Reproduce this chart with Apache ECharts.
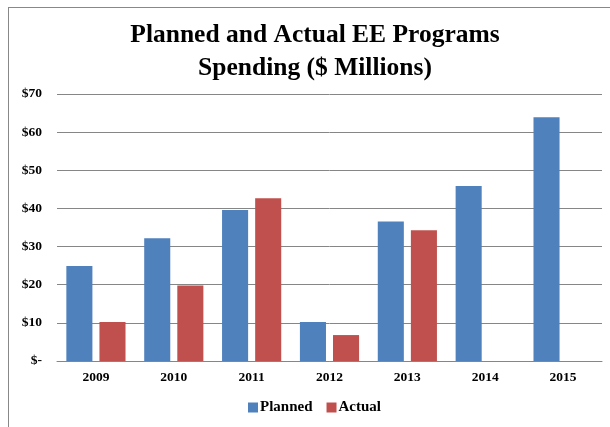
<!DOCTYPE html>
<html>
<head>
<meta charset="utf-8">
<script src="https://cdn.jsdelivr.net/npm/echarts@6/dist/echarts.min.js"></script>
<style>
html,body{margin:0;padding:0;background:#fff;}
#c{width:610px;height:427px;}
</style>
</head>
<body>
<div id="c"></div>
<script>
const categories = ['2009','2010','2011','2012','2013','2014','2015'];
const planned = [24.9, 32.2, 39.6, 10.2, 36.6, 45.9, 63.9];
const actual = [10.2, 19.8, 42.7, 6.8, 34.3, null, null];
const yTicks = [0,10,20,30,40,50,60,70];

const serif = '"Liberation Serif","Times New Roman",serif';
const chart = echarts.init(document.getElementById('c'), null, {renderer:'canvas'});
chart.setOption({
  animation:false,
  backgroundColor:'#fff',
  title:{
    text:'Planned and Actual EE Programs\nSpending ($ Millions)',
    left:310, textAlign:'center', top:14,
    textStyle:{fontFamily:serif, fontWeight:'bold', fontSize:25.5, color:'#000', lineHeight:33}
  },
  graphic:[
    {type:'line', shape:{x1:8,y1:7.5,x2:610,y2:7.5}, style:{stroke:'#888',lineWidth:1}},
    {type:'line', shape:{x1:8.5,y1:7,x2:8.5,y2:427}, style:{stroke:'#888',lineWidth:1}}
  ],
  legend:{
    bottom:7, left:243,
    itemWidth:10, itemHeight:10, itemGap:14,
    textStyle:{fontFamily:serif, fontWeight:'bold', fontSize:15, color:'#000', padding:[0,0,0,-3]},
    data:[{name:'Planned',icon:'rect'},{name:'Actual',icon:'rect'}]
  },
  grid:{left:57, right:8, top:94, bottom:66},
  xAxis:{
    type:'category', data:categories,
    axisLine:{lineStyle:{color:'#868686'}},
    axisTick:{show:false},
    axisLabel:{fontFamily:serif, fontWeight:'bold', fontSize:13.5, color:'#000', margin:10}
  },
  yAxis:{
    type:'value', min:0, max:70, interval:10,
    axisLine:{show:false}, axisTick:{show:false},
    splitLine:{lineStyle:{color:'#868686'}},
    axisLabel:{fontFamily:serif, fontWeight:'bold', fontSize:13.5, color:'#000', margin:15,
      formatter:function(v){ return yTicks.indexOf(v)>=0 ? (v===0?'$-':'$'+v) : ''; }}
  },
  series:[
    {name:'Planned', type:'bar', data:planned, barGap:'27%', barCategoryGap:'24%',
      itemStyle:{color:'#4F81BD'}},
    {name:'Actual', type:'bar', data:actual,
      itemStyle:{color:'#C0504D'}}
  ]
});
</script>
</body>
</html>
